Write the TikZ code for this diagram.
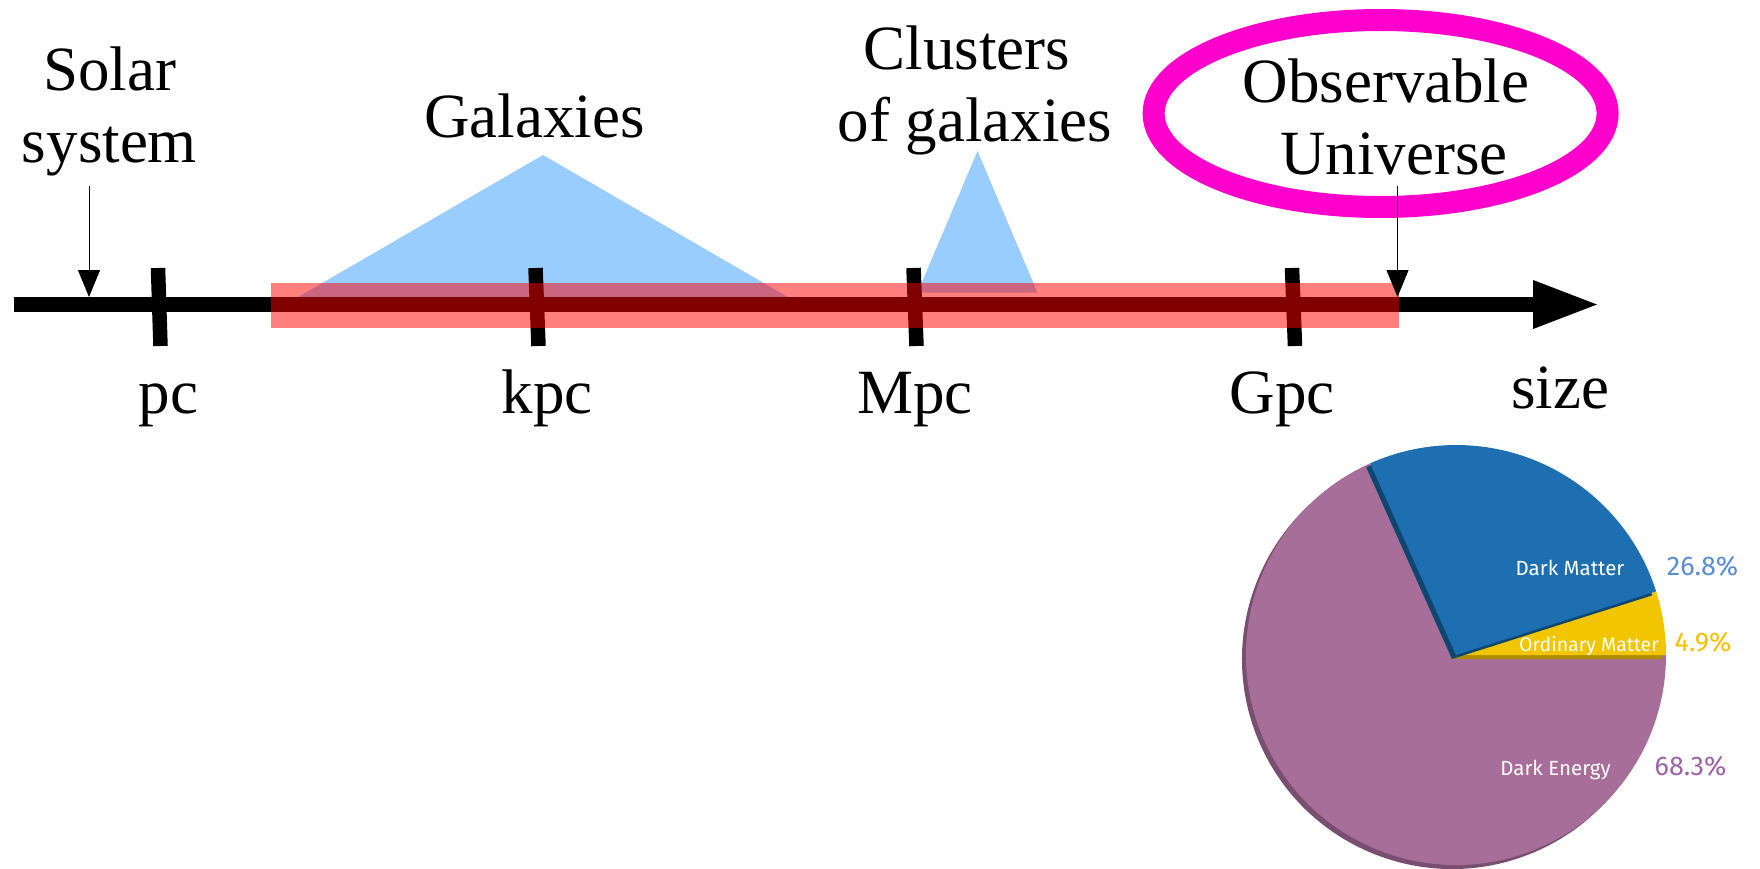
\documentclass[tikz,border=0pt]{standalone}
\usepackage{fontspec}
\setmainfont{Liberation Serif}
\newfontfamily\piefont{Fira Sans}
\usetikzlibrary{arrows.meta}

\definecolor{galblue}{RGB}{153,204,255}
\definecolor{ellmag}{RGB}{255,0,204}
\definecolor{deFill}{RGB}{168,110,154}
\definecolor{deShade}{RGB}{122,78,112}
\definecolor{dmFill}{RGB}{29,111,177}
\definecolor{dmShade}{RGB}{14,70,112}
\definecolor{omFill}{RGB}{241,197,0}
\definecolor{omShade}{RGB}{176,140,0}
\definecolor{dmText}{RGB}{90,140,208}
\definecolor{omText}{RGB}{245,192,0}
\definecolor{deText}{RGB}{155,98,168}

% one slice of the pie: start angle, end angle, fill, shadow colour
\newcommand\pieslice[4]{%
  \fill[#4] (-4,-4) -- ++(#1:210) arc[start angle=#1, end angle=#2, radius=210] -- cycle;
  \fill[#3] (0,0) -- (#1:210) arc[start angle=#1, end angle=#2, radius=210] -- cycle;}

\begin{document}
\begin{tikzpicture}[x=1pt, y=-1pt,
  bigtext/.style={font=\fontsize{63}{72}\selectfont, inner sep=0pt},
  scalelbl/.style={bigtext, align=center, anchor=base},
  unitlbl/.style={bigtext, anchor=base},
  tickmark/.style={line width=14.5pt},
  pointer/.style={line width=0.9pt, -{Triangle[length=27pt,width=22pt]}},
  pielbl/.style={font=\piefont\fontsize{20.5}{24}\selectfont, text=white, inner sep=0pt, anchor=base},
  pctlbl/.style={font=\piefont\fontsize{27}{30}\selectfont, inner sep=0pt, anchor=base}]
\useasboundingbox (0,0) rectangle (1760,869);

% size ranges of galaxies and of clusters
\fill[galblue] (293,300) -- (543,155) -- (793,300) -- cycle;
\fill[galblue] (917.5,292.7) -- (977.5,151) -- (1037.5,292.7) -- cycle;

% size axis
\coordinate (axstart) at (14,304.5);
\coordinate (axend) at (1600,304.5);
\draw[line width=15pt, -{Triangle[length=67pt,width=44pt]}] (axstart) -- (axend);

% ticks
\draw[tickmark] (158,268) -- (160.5,346);
\draw[tickmark] (535.5,268) -- (538.5,346);
\draw[tickmark] (913.5,268) -- (916.5,346);
\draw[tickmark] (1292,268) -- (1295,346);

% highlighted range
\fill[red, opacity=0.5] (270.6,283.3) rectangle (1398.8,328.3);

% unit labels
\node[unitlbl] (pc)   at (168.5,413) {pc};
\node[unitlbl] (kpc)  at (547,413)   {kpc};
\node[unitlbl] (mpc)  at (915,413)   {Mpc};
\node[unitlbl] (gpc)  at (1282,413)  {Gpc};
\node[unitlbl] (size) at (1560,408)  {size};

% scale labels (anchored on the baseline of their last line)
\node[scalelbl] (solar)    at (109.5,163) {Solar\\system};
\node[scalelbl] (galaxies) at (534.5,138) {Galaxies};
\node[scalelbl] (clusters) at (967,141.7) {Clusters\\\hspace*{16pt}of galaxies};
\node[scalelbl] (universe) at (1386,175)  {Observable\\\hspace*{16pt}Universe};

% ring round the observable universe
\draw[ellmag, line width=22pt] (1380.6,113.5) ellipse [x radius=227, y radius=93.5];

% pointers onto the axis
\coordinate (solarfoot) at (89,186);
\coordinate (solartip)  at (89,297);
\coordinate (univfoot)  at (1397.5,186);
\coordinate (univtip)   at (1397.5,297);
\draw[pointer] (solarfoot) -- (solartip);
\draw[pointer] (univfoot) -- (univtip);

% energy content pie
\begin{scope}[shift={(1456,655)}, y=1pt]
  \pieslice{114.12}{360}{deFill}{deShade}
  \pieslice{0}{17.64}{omFill}{omShade}
  \pieslice{17.64}{114.12}{dmFill}{dmShade}
\end{scope}

\node[pielbl] (dmname) at (1570,575)   {Dark Matter};
\node[pielbl, font=\piefont\fontsize{19.5}{23}\selectfont] (omname) at (1589,651.5) {Ordinary Matter};
\node[pielbl] (dename) at (1555.5,775) {Dark Energy};
\node[pctlbl, text=dmText] (dmpct) at (1702.6,575) {26.8\%};
\node[pctlbl, text=omText] (ompct) at (1703,651)   {4.9\%};
\node[pctlbl, text=deText] (depct) at (1690.5,775) {68.3\%};
\end{tikzpicture}
\end{document}
